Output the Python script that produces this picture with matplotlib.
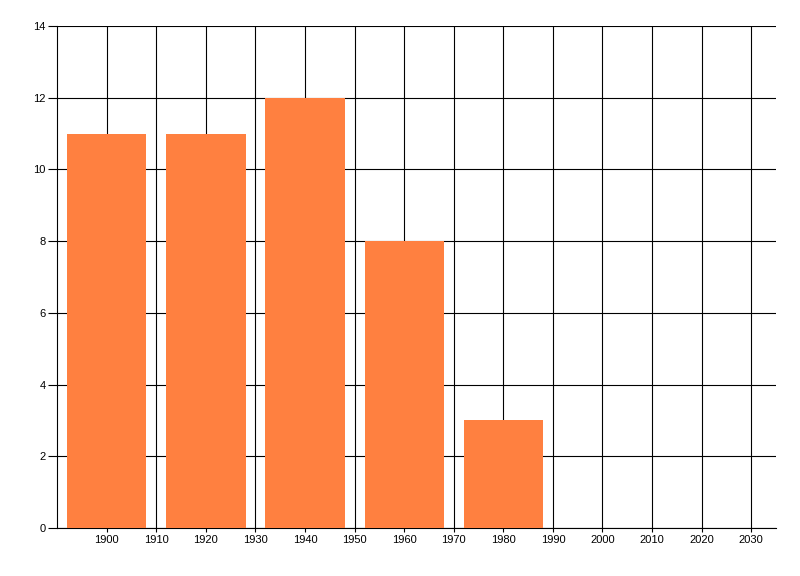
import matplotlib.pyplot as plt
import numpy as np

plt.rcParams['font.family'] = ['Liberation Sans', 'DejaVu Sans']

# data
years = [1900, 1920, 1940, 1960, 1980]
counts = [11, 11, 12, 8, 3]
xticks = list(range(1900, 2031, 10))
yticks = list(range(0, 15, 2))

fig = plt.figure(figsize=(8, 5.76), dpi=100)
ax = fig.add_axes([57.2/800, 48/576, (776-57.2)/800, (528-26)/576])

ax.bar(years, counts, width=16, color='#FF8040', zorder=3)

ax.set_xlim(1890, 2035)
ax.set_ylim(0, 14)
ax.set_xticks(xticks)
ax.set_yticks(yticks)
ax.grid(True, color='black', linewidth=0.8, zorder=0)
ax.set_axisbelow(True)

for s in ['top', 'right']:
    ax.spines[s].set_visible(False)
for s in ['left', 'bottom']:
    ax.spines[s].set_linewidth(0.8)

ax.tick_params(axis='y', length=6.5, width=0.8, labelsize=8, pad=2)
ax.tick_params(axis='x', length=3, width=0.8, labelsize=8, pad=2)

fig.savefig('out.png', dpi=100)
